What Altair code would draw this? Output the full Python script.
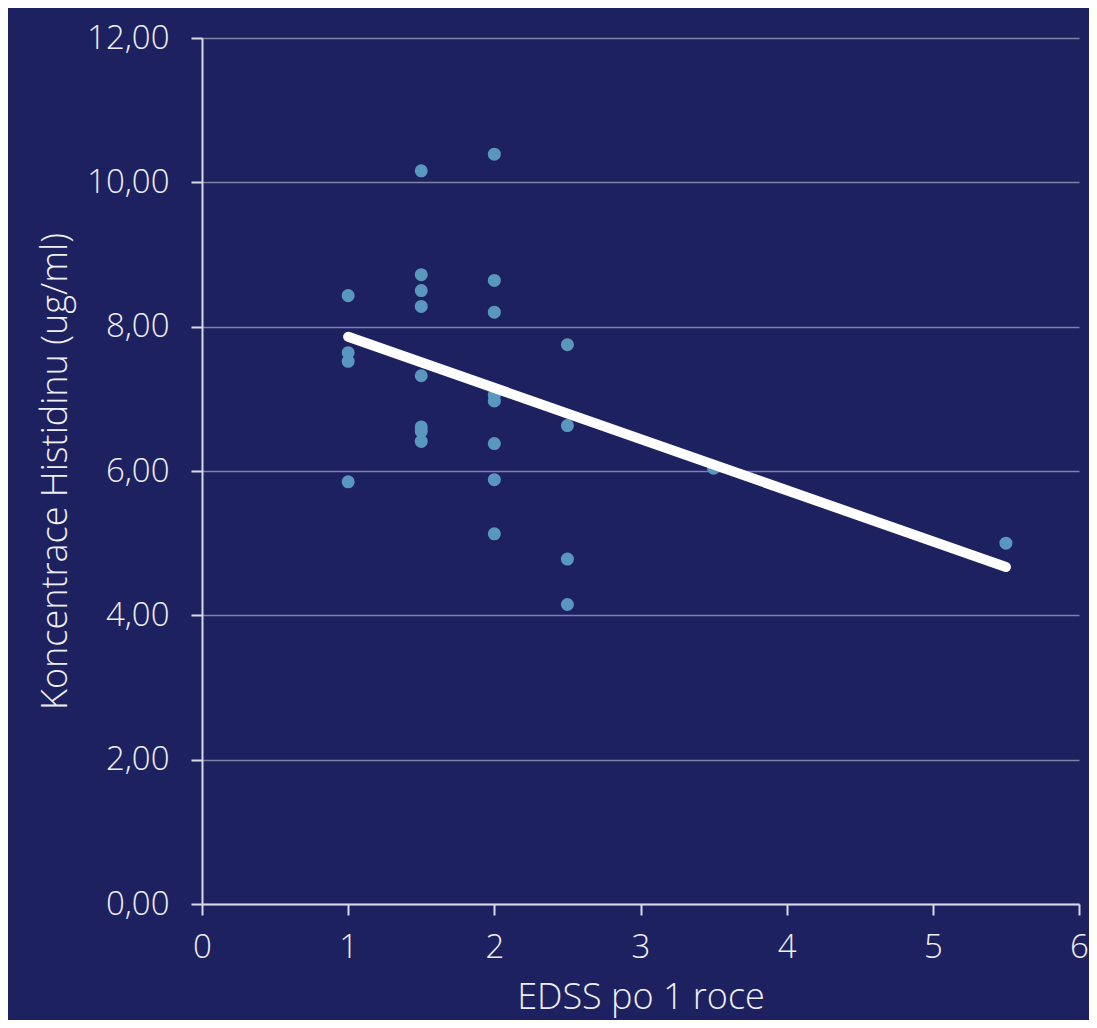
import altair as alt
import pandas as pd

# EDSS after 1 year (x) and histidine concentration (y)
edss = [1, 1, 1, 1,
        1.5, 1.5, 1.5, 1.5, 1.5, 1.5, 1.5, 1.5,
        2, 2, 2, 2, 2, 2, 2, 2,
        2.5, 2.5, 2.5, 2.5,
        3.5, 5.5]
histidin = [8.43, 7.64, 7.52, 5.85,
            10.16, 8.72, 8.50, 8.28, 7.32, 6.61, 6.55, 6.41,
            10.39, 8.64, 8.20, 7.05, 6.97, 6.38, 5.88, 5.13,
            7.75, 6.63, 4.78, 4.15,
            6.04, 5.00]

trend_x = [1, 5.5]
trend_y = [7.86, 4.67]

x_ticks = [0, 1, 2, 3, 4, 5, 6]
y_ticks = [0, 2, 4, 6, 8, 10, 12]

pts = pd.DataFrame({"x": edss, "y": histidin})
trend = pd.DataFrame({"x": trend_x, "y": trend_y})

FONT = "Open Sans"
BG = "#1E2160"
TXT = "#EEEEF4"

xscale = alt.Scale(domain=[0, 6], nice=False, zero=False)
yscale = alt.Scale(domain=[0, 12], nice=False)

xaxis = alt.Axis(values=x_ticks, title="EDSS po 1 roce", grid=False, format="d",
                 labelFlush=False,
                 domainColor="#DADAE6", domainWidth=2, tickColor="#DADAE6",
                 tickWidth=2, tickSize=11, labelPadding=16, titlePadding=16,
                 labelFontSize=33, titleFontSize=36)
yaxis = alt.Axis(values=y_ticks, title="Koncentrace Histidinu (ug/ml)",
                 labelExpr="replace(format(datum.value, '.2f'), '.', ',')",
                 labelFlush=False,
                 grid=True, gridColor="#7E80A8", gridWidth=1.5,
                 domainColor="#DADAE6", domainWidth=2, tickColor="#DADAE6",
                 tickWidth=2, tickSize=11, labelPadding=22, titlePadding=12,
                 labelFontSize=33, titleFontSize=36)

points = alt.Chart(pts).mark_circle(size=170, opacity=1, color="#5A97BF").encode(
    x=alt.X("x:Q", scale=xscale, axis=xaxis),
    y=alt.Y("y:Q", scale=yscale, axis=yaxis),
)

line = alt.Chart(trend).mark_line(color="white", strokeWidth=10, strokeCap="round").encode(
    x=alt.X("x:Q", scale=xscale),
    y=alt.Y("y:Q", scale=yscale),
)

chart = alt.layer(points, line).properties(
    width=877, height=866,
    background=BG,
    padding={"left": 194, "top": 30, "right": 10, "bottom": 116},
    autosize=alt.AutoSizeParams(type="none"),
).configure_view(stroke=None, fill=BG).configure_axis(
    labelFont=FONT, titleFont=FONT, labelColor=TXT, titleColor=TXT,
    labelFontWeight=300, titleFontWeight=300,
)

chart.save("out.html", embed_options={"renderer": "svg", "actions": False})
